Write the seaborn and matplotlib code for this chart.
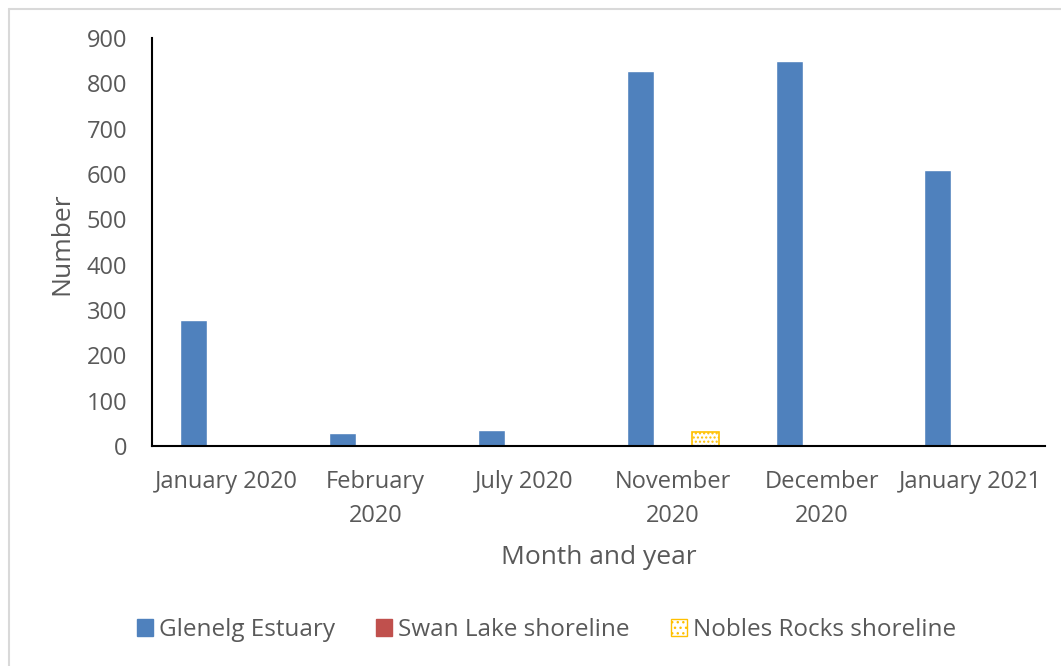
import matplotlib
matplotlib.use("Agg")
import matplotlib.pyplot as plt
from matplotlib.lines import Line2D
from matplotlib.patches import Patch
import pandas as pd
import seaborn as sns

months = ["January 2020", "February\n2020", "July 2020", "November\n2020",
          "December\n2020", "January 2021"]
sites = ["Glenelg Estuary", "Swan Lake shoreline", "Nobles Rocks shoreline"]
glenelg = [278, 28, 35, 827, 849, 608]
swan = [0, 0, 0, 0, 0, 0]
nobles = [0, 0, 0, 30, 0, 0]
y_ticks = [0, 100, 200, 300, 400, 500, 600, 700, 800, 900]

colors = {"Glenelg Estuary": "#4F81BD", "Swan Lake shoreline": "#C0504D",
          "Nobles Rocks shoreline": "#FFFFFF"}

df = pd.DataFrame({
    "month": months * 3,
    "site": [s for s in sites for _ in months],
    "count": glenelg + swan + nobles,
})

sns.set_style("white")
plt.rcParams["font.family"] = ["Open Sans", "DejaVu Sans"]
text_col = "#595959"

fig = plt.figure(figsize=(10.61, 6.66), dpi=100)
ax = fig.add_axes([0.1433, 0.3303, 0.8417, 0.6127])
sns.barplot(data=df, x="month", y="count", hue="site", order=months,
            hue_order=sites, palette=colors, width=0.66, gap=0.18,
            legend=False, ax=ax, saturation=1)

# Nobles Rocks bars: white with gold dotted hatch
n = len(months)
for p in ax.patches[2 * n:3 * n]:
    p.set_facecolor("white")
    p.set_edgecolor("#FFC000")
    p.set_hatch("....")
    p.set_linewidth(1.2)

ax.set_xlim(-0.5, 5.5)
ax.set_ylim(0, 900)
ax.set_yticks(y_ticks)
ax.tick_params(axis="both", length=0, labelsize=17, labelcolor=text_col)
ax.tick_params(axis="y", pad=18)
ax.tick_params(axis="x", pad=17)
for lbl in ax.get_xticklabels():
    lbl.set_linespacing(1.55)
for sp in ["top", "right"]:
    ax.spines[sp].set_visible(False)
for sp in ["left", "bottom"]:
    ax.spines[sp].set_color("black")
    ax.spines[sp].set_linewidth(1.5)

ax.set_xlabel("Month and year", fontsize=19, color=text_col)
ax.set_ylabel("Number", fontsize=19, color=text_col)
ax.xaxis.set_label_coords(0.5, -0.272)
ax.xaxis.label.set_va("center")
ax.yaxis.set_label_coords(-0.1008, 0.495)
ax.yaxis.label.set_va("center")

handles = [Patch(facecolor="#4F81BD", edgecolor="#4F81BD"),
           Patch(facecolor="#C0504D", edgecolor="#C0504D"),
           Patch(facecolor="white", edgecolor="#FFC000", hatch="...")]
fig.legend(handles, sites, loc="center", bbox_to_anchor=(0.515, 0.054), ncol=3,
           frameon=False, fontsize=17.5, labelcolor=text_col, handlelength=0.65,
           handleheight=0.65, handletextpad=0.25, columnspacing=1.7)

# light grey chart-area frame (left and top edges visible)
fx, fy = 8.5 / 1061, 1 - 8.5 / 666
fig.lines.append(Line2D([fx, fx], [0, fy], transform=fig.transFigure,
                        color="#D9D9D9", lw=1.5))
fig.lines.append(Line2D([fx, 1], [fy, fy], transform=fig.transFigure,
                        color="#D9D9D9", lw=1.5))

fig.savefig("out.png", dpi=100)
